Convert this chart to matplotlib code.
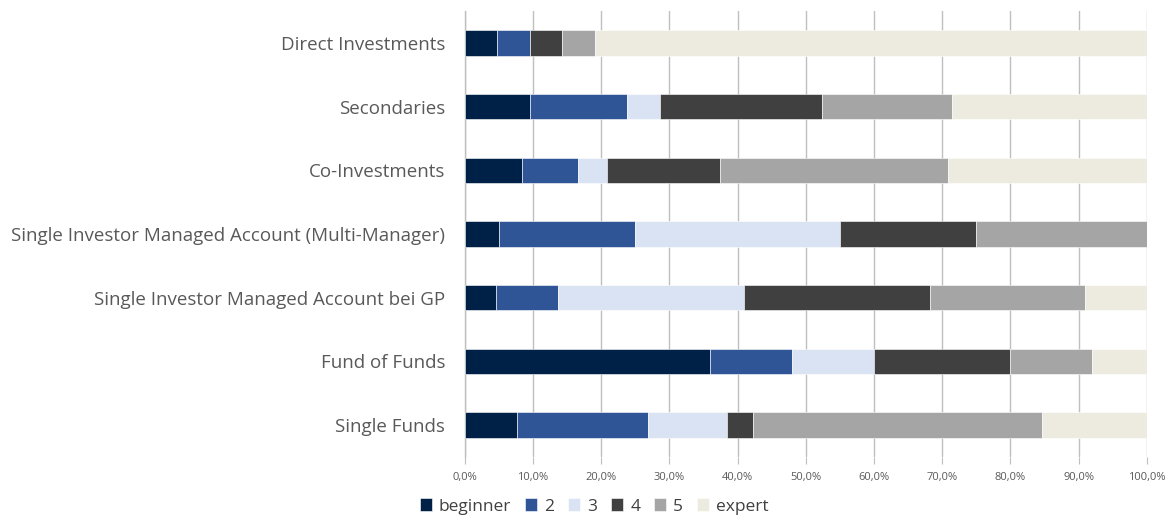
import numpy as np
import matplotlib.pyplot as plt

plt.rcParams['font.family'] = ['Open Sans', 'DejaVu Sans']

# categories (top to bottom as in the chart)
categories = ['Direct Investments', 'Secondaries', 'Co-Investments',
              'Single Investor Managed Account (Multi-Manager)',
              'Single Investor Managed Account bei GP',
              'Fund of Funds', 'Single Funds']
levels = ['beginner', '2', '3', '4', '5', 'expert']

# shares in percent per level
beginner = [4.76, 9.52, 8.33, 5.0, 4.55, 36.0, 7.69]
lvl2 = [4.76, 14.29, 8.33, 20.0, 9.09, 12.0, 19.23]
lvl3 = [0.0, 4.76, 4.17, 30.0, 27.27, 12.0, 11.54]
lvl4 = [4.76, 23.81, 16.67, 20.0, 27.27, 20.0, 3.85]
lvl5 = [4.76, 19.05, 33.33, 25.0, 22.73, 12.0, 42.31]
expert = [80.95, 28.57, 29.17, 0.0, 9.09, 8.0, 15.38]

colors = ['#002147', '#2F5597', '#DAE3F3', '#404040', '#A5A5A5', '#EDEBE0']
series = [beginner, lvl2, lvl3, lvl4, lvl5, expert]

fig = plt.figure(figsize=(11.7, 5.19), dpi=100)
ax = fig.add_axes([0.3972, 0.1195, 0.5829, 0.859])

y = np.arange(len(categories))[::-1]
left = np.zeros(len(categories))
for vals, c, lab in zip(series, colors, levels):
    vals = np.array(vals)
    ax.barh(y, vals, left=left, height=0.4, color=c, label=lab,
            edgecolor='white', linewidth=0.4, zorder=3)
    left += vals

ax.set_xlim(0, 100)
ax.set_ylim(-0.5, 6.5)
ticks = np.arange(0, 101, 10)
ax.set_xticks(ticks)
ax.set_xticklabels([('%.1f%%' % v).replace('.', ',') for v in ticks])
ax.set_yticks(y)
ax.set_yticklabels(categories)

ax.grid(axis='x', color='#BFBFBF', linewidth=1, zorder=0)
for s in ['top', 'right', 'bottom']:
    ax.spines[s].set_visible(False)
ax.spines['left'].set_color('#BFBFBF')
ax.spines['left'].set_linewidth(1)
ax.tick_params(axis='x', colors='#BFBFBF', labelcolor='#595959', labelsize=8,
               length=5, pad=6)
ax.tick_params(axis='y', length=0, labelcolor='#595959', labelsize=13.5, pad=14)

fig.legend(*ax.get_legend_handles_labels(), loc='center',
           bbox_to_anchor=(0.508, 0.024), ncol=6,
           frameon=False, fontsize=12.5, handlelength=0.7, handleheight=0.7,
           handletextpad=0.4, columnspacing=0.8, labelcolor='#404040')

fig.savefig('out.png', dpi=100)
